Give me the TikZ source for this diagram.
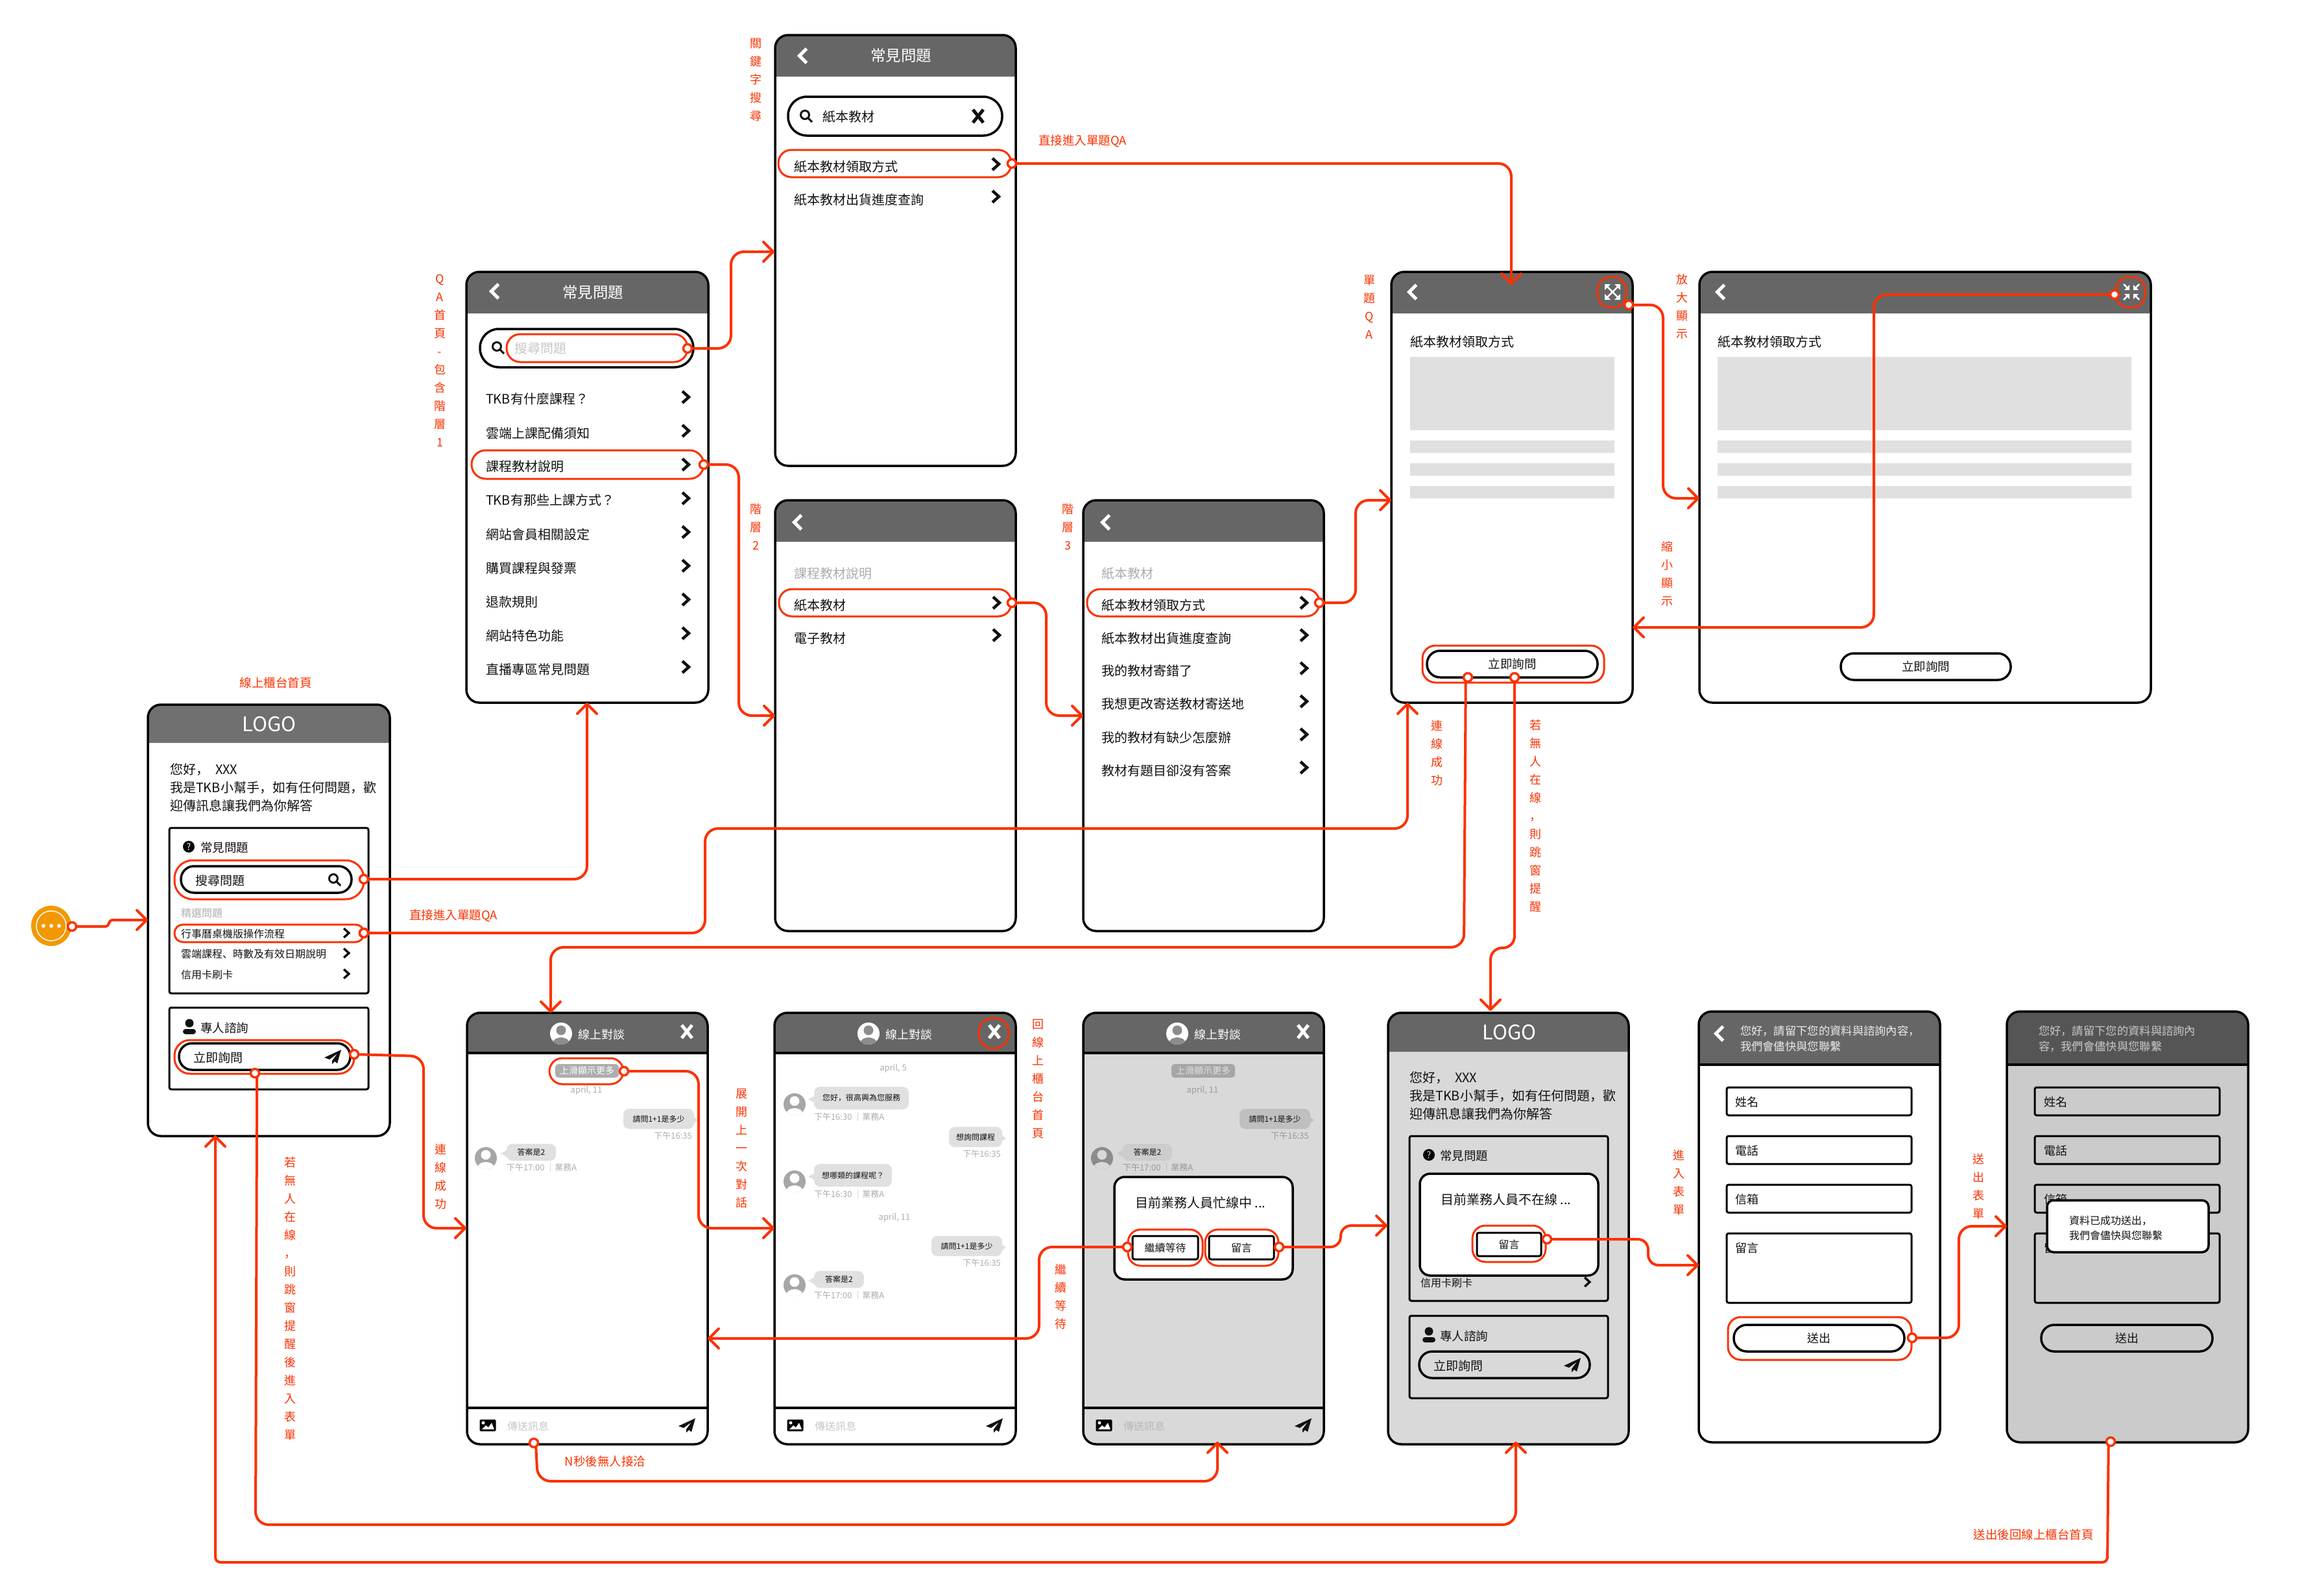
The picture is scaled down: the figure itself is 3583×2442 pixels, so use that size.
\documentclass[tikz,border=0pt]{standalone}
\usepackage{fontspec}
\setmainfont{Noto Sans CJK TC}
\newfontfamily\jpf{Noto Sans CJK JP}
\newcommand\cmj{{\jpf ，}}
\newcommand\dunj{{\jpf 、}}
\usetikzlibrary{arrows.meta}
\definecolor{ink}{HTML}{111111}
\definecolor{rd}{HTML}{FA3200}
\definecolor{hdA}{HTML}{707070}
\definecolor{hdB}{HTML}{666666}
\definecolor{hdM}{HTML}{555555}
\definecolor{blockg}{HTML}{E0E0E0}
\definecolor{grayJ}{HTML}{D9D9D9}
\definecolor{grayM}{HTML}{CBCBCB}
\definecolor{soft}{HTML}{ADADAD}
\definecolor{orangeS}{HTML}{F39800}
\tikzset{
  sz/.style={font=\fontsize{#1}{#1}\selectfont},
  lbl/.style={anchor=west,inner sep=0pt,outer sep=0pt,text=ink,yshift=-1pt},
  ctr/.style={anchor=center,inner sep=0pt,outer sep=0pt,text=ink,yshift=-1pt},
  greet/.style={lbl,align=left,font=\fontsize{20}{28}\selectfont},
  plainbox/.style={draw=black,line width=3pt,rounded corners=3pt},
  pill/.style={draw=black,line width=3.5pt,rounded corners=#1},
  hl/.style={draw=rd,line width=3pt,rounded corners=#1},
  dotn/.style={circle,draw=rd,line width=3.5pt,fill=white,minimum size=13pt,inner sep=0pt,outer sep=0pt},
  conn/.style={draw=rd,line width=4pt,rounded corners=#1,-{Straight Barb[length=15pt,width=30pt,round]}},
  conn/.default=20pt,
  redt/.style={anchor=center,inner sep=0pt,outer sep=0pt,text=rd,font=\fontsize{18.5}{18.5}\selectfont},
  vl/.style={anchor=center,inner sep=0pt,outer sep=0pt,text=rd,align=center,font=\fontsize{18}{28}\selectfont}
}
\newcommand\scrbox[7][]{%
  \pgfmathsetmacro\bxw{#5-#3}\pgfmathsetmacro\bxh{#6-#4}%
  \pgfmathsetmacro\bxx{(#3+#5)/2}\pgfmathsetmacro\bxy{(#4+#6)/2}%
  \node[inner sep=0pt,outer sep=0pt,minimum width=\bxw pt,minimum height=\bxh pt,#1] (#2) at (\bxx,\bxy) {\raisebox{-1pt}{#7}};}
\newcommand\screen[8]{%
  \scrbox[fill=#7,rounded corners=20pt]{#1}{#2}{#3}{#4}{#5}{}%
  \fill[#8] (#2,#6) {[rounded corners=20pt] -- (#2,#3) -- (#4,#3)} -- (#4,#6) -- cycle;%
  \draw[black,line width=3.5pt,rounded corners=20pt] (#1.south west) rectangle (#1.north east);}
\newcommand\chevR[5][ink]{\draw[#1,line width=#5pt,shift={(#2,#3)},scale=#4] (-.55,-1)--(.55,0)--(-.55,1);}
\newcommand\backc[2]{\draw[white,line width=5pt,shift={(#1,#2)},scale=11] (.5,-1)--(-.5,0)--(.5,1);}
\newcommand\xmark[3][white]{\draw[#1,line width=5pt,shift={(#2,#3)}] (-8,-10)--(8,10) (-8,10)--(8,-10);}
\newcommand\magn[2]{\draw[ink,line width=3pt,shift={(#1,#2)}] (-2,-2) circle[radius=6.5] (2.5,2.5)--(9,9);}
\newcommand\planeic[2]{\fill[ink,shift={(#1,#2)}] (13,-11)--(-13,1)--(-5,4)--(7,-5)--(-1,6)--(-1,11)--(3,7)--(7,10)--cycle;}
\newcommand\persb[2]{\fill[ink,shift={(#1,#2)}] (0,-6) circle[radius=6.5]; \fill[ink,rounded corners=4pt,shift={(#1,#2)}] (-10,11)--(-10,3)--(10,3)--(10,11)--cycle;}
\newcommand\avatar[4]{%
  \fill[#3,shift={(#1,#2)}] (0,0) circle[radius=17];
  \begin{scope}[shift={(#1,#2)}]\clip (0,0) circle[radius=17];
    \fill[#4] (0,-5) circle[radius=7.5];
    \fill[#4] (0,15) ellipse[x radius=13,y radius=9];
  \end{scope}}
\newcommand\imgic[2]{\begin{scope}[shift={(#1,#2)}]
  \fill[black,rounded corners=2pt] (-12.5,-9) rectangle (12.5,9);
  \fill[white] (-9,6)--(-3,0)--(1,3)--(6,-4)--(10,6)--cycle;
  \fill[white] (-7,-4) circle[radius=2.5];\end{scope}}
\newcommand\expandic[2]{\begin{scope}[shift={(#1,#2)}]
  \draw[white,line width=2.5pt] (-9,-9)--(9,9) (-9,9)--(9,-9);
  \fill[white] (-12,-12)--(-3,-12)--(-12,-3)--cycle (12,-12)--(3,-12)--(12,-3)--cycle
     (-12,12)--(-3,12)--(-12,3)--cycle (12,12)--(3,12)--(12,3)--cycle;\end{scope}}
\newcommand\collapseic[2]{\begin{scope}[shift={(#1,#2)}]
  \draw[white,line width=2.5pt] (-12,-12)--(-5,-5) (12,12)--(5,5) (-12,12)--(-5,5) (12,-12)--(5,-5);
  \fill[white] (-3,-3)--(-3,-11)--(-11,-3)--cycle (3,-3)--(3,-11)--(11,-3)--cycle
     (-3,3)--(-3,11)--(-11,3)--cycle (3,3)--(3,11)--(11,3)--cycle;\end{scope}}
\newcommand\bubL[7]{\fill[#6] (#2+2,{(#3+#5)/2-4})--(#2-9,{(#3+#5)/2+2})--(#2+2,{(#3+#5)/2+8})--cycle;
  \scrbox[fill=#6,rounded corners=9pt,text=ink,sz=12]{#1}{#2}{#3}{#4}{#5}{#7}}
\newcommand\bubR[7]{\fill[#6] (#4-2,{(#3+#5)/2-4})--(#4+6,{(#3+#5)/2+2})--(#4-2,{(#3+#5)/2+8})--cycle;
  \scrbox[fill=#6,rounded corners=9pt,text=ink,sz=12]{#1}{#2}{#3}{#4}{#5}{#7}}
\newcommand\chathd[2]{% name, left x
  \avatar{#2+145}{1593}{white}{hdB!75}
  \node[lbl,sz=18,text=white] (#1h) at (#2+171,1594) {線上對談};
  \xmark{#2+339}{1590}
  \draw[black,line width=4pt] (#2,1623)--(#2+371,1623);}
\newcommand\chatft[3]{% name, left x, placeholder colour
  \draw[black,line width=3.5pt] (#2,2170)--(#2+371,2170);
  \imgic{#2+32}{2197}
  \node[lbl,sz=16,text=#3] (#1f) at (#2+62,2197) {傳送訊息};
  \planeic{#2+339}{2197}}
\newcommand\tstamp[3]{\node[lbl,sz=13,text=soft] (#1) at (#2,#3) {下午16:30 ｜業務A};}
\begin{document}
\begin{tikzpicture}[x=1pt,y=-1pt]
\useasboundingbox (0,0) rectangle (3583,2442);
\fill[white] (0,0) rectangle (3583,2442);

% ---------- start button
\node[circle,fill=orangeS,minimum size=62pt,inner sep=0pt] (start) at (79,1427) {};
\draw[white,line width=1.5pt] (start.center) circle[radius=23];
\foreach \d in {-12,0,12} \fill[white] (79+\d,1427) circle[radius=3];
\node[dotn] (d0) at (111,1428) {};

% ---------- A home
\screen{sA}{228}{1086}{601}{1751}{1145}{white}{hdA}
\node[ctr,sz=31,text=white] (a0) at (415,1115) {LOGO};
\node[greet] (a1) at (262,1213) {您好\cmj\hspace{10pt}XXX\\我是TKB小幫手\cmj 如有任何問題\cmj 歡\\迎傳訊息讓我們為你解答};
\scrbox[plainbox]{a2}{261}{1276}{568}{1531}{}
\node[circle,fill=black,text=white,minimum size=18pt,inner sep=0pt,sz=14] (a3) at (291,1305) {?};
\node[lbl,sz=18.5] (a4) at (309,1305) {常見問題};
\scrbox[pill=20pt]{a5}{279}{1335}{542}{1376}{}
\node[lbl,sz=19] (a6) at (301,1356) {搜尋問題};
\magn{516}{1356}
\scrbox[hl=28pt]{a7}{269}{1326}{561}{1386}{}
\node[dotn] (dA0) at (561,1355) {};
\node[lbl,sz=16,text=soft] (a8) at (279,1406) {精選問題};
\scrbox[hl=13pt]{a9}{269}{1425}{561}{1452}{}
\node[lbl,sz=16] (a10) at (279,1438) {行事曆桌機版操作流程};
\node[lbl,sz=16] (a11) at (279,1469) {雲端課程\dunj 時數及有效日期說明};
\node[lbl,sz=16] (a12) at (279,1501) {信用卡刷卡};
\foreach \y in {1438,1469,1501} \chevR{534}{\y}{7}{3.5}
\node[dotn] (dA1) at (561,1438) {};
\scrbox[plainbox]{a13}{261}{1553}{568}{1679}{}
\persb{292}{1583}
\node[lbl,sz=18.5] (a14) at (309,1583) {專人諮詢};
\scrbox[pill=20pt]{a15}{276}{1608}{540}{1649}{}
\node[lbl,sz=19] (a16) at (298,1629) {立即詢問};
\planeic{513}{1629}
\scrbox[hl=24pt]{a17}{269}{1603}{546}{1655}{}
\node[dotn] (dA2) at (546,1625) {};
\node[dotn] (dA3) at (393,1654) {};

% ---------- B QA home
\screen{sB}{719}{419}{1092}{1083}{483}{white}{hdB}
\backc{763}{449}
\node[ctr,sz=23.5,text=white] (b0) at (914,450) {常見問題};
\scrbox[pill=29pt]{b1}{740}{507}{1069}{566}{}
\magn{768}{536}
\node[lbl,sz=20,text=black!22] (b2) at (793,536) {搜尋問題};
\scrbox[hl=21pt]{b3}{781}{515}{1060}{558}{}
\node[dotn] (dB0) at (1060,537) {};
\foreach \t/\y/\c [count=\i] in {TKB有什麼課程？/614/612,雲端上課配備須知/667/664,課程教材說明/718/716,TKB有那些上課方式？/770/768,網站會員相關設定/823/820,購買課程與發票/875/872,退款規則/927/924,網站特色功能/979/976,直播專區常見問題/1031/1028}{
  \node[lbl,sz=20] (bi\i) at (749,\y) {\t};
  \chevR{1057}{\c}{9}{4.5}
}
\scrbox[hl=22pt]{b4}{727}{694}{1085}{738}{}
\node[dotn] (dB1) at (1085,716) {};

% ---------- C keyword search
\screen{sC}{1195}{54}{1566}{718}{118}{white}{hdB}
\backc{1238}{86}
\node[ctr,sz=23.5,text=white] (c0) at (1389,85) {常見問題};
\scrbox[pill=29pt]{c1}{1215}{149}{1545}{209}{}
\magn{1243}{179}
\node[lbl,sz=20] (c2) at (1268,179) {紙本教材};
\xmark[ink]{1508}{179}
\scrbox[hl=20pt]{c3}{1200}{231}{1559}{273}{}
\node[lbl,sz=20] (c4) at (1224,256) {紙本教材領取方式};
\node[lbl,sz=20] (c5) at (1224,307) {紙本教材出貨進度查詢};
\chevR{1535}{253}{9}{4.5}
\chevR{1535}{303}{9}{4.5}
\node[dotn] (dC) at (1560,252) {};

% ---------- D level 2
\screen{sD}{1195}{771}{1566}{1435}{835}{white}{hdB}
\backc{1230}{805}
\node[lbl,sz=20,text=soft] (d1) at (1224,883) {課程教材說明};
\scrbox[hl=20pt]{d2}{1201}{908}{1559}{950}{}
\node[lbl,sz=20] (d3) at (1224,932) {紙本教材};
\node[lbl,sz=20] (d4) at (1224,983) {電子教材};
\chevR{1536}{929}{9}{4.5}
\chevR{1536}{979}{9}{4.5}
\node[dotn] (dD) at (1560,929) {};

% ---------- F level 3
\screen{sF}{1670}{771}{2041}{1435}{835}{white}{hdB}
\backc{1705}{805}
\node[lbl,sz=20,text=soft] (f1) at (1698,883) {紙本教材};
\scrbox[hl=20pt]{f2}{1676}{908}{2034}{950}{}
\foreach \t/\y/\c [count=\i] in {紙本教材領取方式/932/929,紙本教材出貨進度查詢/983/979,我的教材寄錯了/1033/1030,我想更改寄送教材寄送地/1084/1081,我的教材有缺少怎麼辦/1136/1132,教材有題目卻沒有答案/1187/1183}{
  \node[lbl,sz=20] (fi\i) at (1698,\y) {\t};
  \chevR{2010}{\c}{9}{4.5}
}
\node[dotn] (dF) at (2034,929) {};

% ---------- E single QA
\screen{sE}{2145}{419}{2517}{1083}{483}{white}{hdB}
\backc{2178}{450}
\expandic{2486}{450}
\scrbox[hl=20pt]{e0}{2463}{427}{2507}{474}{}
\node[dotn] (dE0) at (2511,470) {};
\node[lbl,sz=20] (e1) at (2174,526) {紙本教材領取方式};
\fill[blockg] (2174,550) rectangle (2489,663) (2174,679) rectangle (2489,698) (2174,714) rectangle (2489,733) (2174,749) rectangle (2489,768);
\scrbox[pill=20pt,sz=18.5,text=ink]{e2}{2200}{1003}{2463}{1044}{立即詢問}
\scrbox[hl=20pt]{e3}{2193}{995}{2473}{1052}{}
\node[dotn] (dE1) at (2263,1044) {};
\node[dotn] (dE2) at (2335,1044) {};

% ---------- H enlarged QA
\screen{sH}{2620}{419}{3316}{1083}{483}{white}{hdB}
\backc{2653}{450}
\collapseic{3286}{450}
\scrbox[hl=20pt]{h0}{3262}{427}{3307}{474}{}
\node[dotn] (dH) at (3260,454) {};
\node[lbl,sz=20] (h1) at (2648,526) {紙本教材領取方式};
\fill[blockg] (2648,550) rectangle (3286,663) (2648,679) rectangle (3286,698) (2648,714) rectangle (3286,733) (2648,749) rectangle (3286,768);
\scrbox[pill=20pt,sz=18.5,text=ink]{h2}{2838}{1007}{3100}{1048}{立即詢問}

% ---------- G chat
\screen{sG}{720}{1561}{1091}{2226}{1623}{white}{hdB}
\chathd{g}{720}
\chatft{g}{720}{black!22}
\scrbox[fill=soft,rounded corners=5pt,text=white,sz=14]{g1}{856}{1640}{954}{1661}{上滑顯示更多}
\scrbox[hl=20pt]{g2}{847}{1631}{961}{1671}{}
\node[dotn] (dG0) at (962,1651) {};
\node[ctr,sz=13,text=soft] (g3) at (904,1680) {april, 11};
\bubR{g4}{961}{1709}{1070}{1740}{blockg}{請問1+1是多少}
\node[anchor=east,inner sep=0pt,sz=13,text=soft] (g5) at (1067,1751) {下午16:35};
\avatar{749}{1785}{black!35}{white}
\bubL{g6}{781}{1763}{857}{1789}{blockg}{答案是2}
\node[lbl,sz=13,text=soft] (g7) at (781,1799) {下午17:00 ｜業務A};
\node[dotn] (dG1) at (823,2224) {};

% ---------- I chat expanded
\screen{sI}{1194}{1561}{1566}{2226}{1623}{white}{hdB}
\chathd{i}{1194}
\chatft{i}{1194}{black!22}
\scrbox[hl=22pt]{i0}{1509}{1569}{1555}{1616}{}
\node[ctr,sz=13,text=soft] (i1) at (1377,1646) {april, 5};
\avatar{1225}{1702}{black!35}{white}
\bubL{i2}{1255}{1675}{1401}{1710}{blockg}{您好\cmj 很高興為您服務}
\tstamp{i3}{1255}{1721}
\bubR{i4}{1463}{1737}{1545}{1768}{blockg}{想詢問課程}
\node[anchor=east,inner sep=0pt,sz=13,text=soft] (i5) at (1543,1779) {下午16:35};
\avatar{1225}{1821}{black!35}{white}
\bubL{i6}{1255}{1794}{1375}{1829}{blockg}{想哪類的課程呢？}
\tstamp{i7}{1255}{1840}
\node[ctr,sz=13,text=soft] (i8) at (1379,1876) {april, 11};
\bubR{i9}{1436}{1905}{1545}{1936}{blockg}{請問1+1是多少}
\node[anchor=east,inner sep=0pt,sz=13,text=soft] (i10) at (1543,1947) {下午16:35};
\avatar{1225}{1981}{black!35}{white}
\bubL{i11}{1255}{1959}{1332}{1985}{blockg}{答案是2}
\node[lbl,sz=13,text=soft] (i12) at (1255,1996) {下午17:00 ｜業務A};

% ---------- J chat busy dialog
\screen{sJ}{1670}{1561}{2041}{2226}{1623}{grayJ}{hdB}
\chathd{j}{1670}
\chatft{j}{1670}{black!28}
\scrbox[fill=black!35,rounded corners=5pt,text=black!12,sz=14]{j1}{1806}{1640}{1904}{1661}{上滑顯示更多}
\node[ctr,sz=13,text=black!40] (j3) at (1854,1680) {april, 11};
\bubR{j4}{1911}{1709}{2020}{1740}{black!25}{請問1+1是多少}
\node[anchor=east,inner sep=0pt,sz=13,text=black!40] (j5) at (2018,1751) {下午16:35};
\avatar{1699}{1785}{black!45}{grayJ}
\bubL{j6}{1731}{1763}{1807}{1789}{black!20}{答案是2}
\node[lbl,sz=13,text=black!40] (j7) at (1731,1799) {下午17:00 ｜業務A};
\scrbox[draw=black,line width=3.5pt,fill=white,rounded corners=16pt]{j8}{1718}{1814}{1993}{1972}{}
\node[lbl,sz=20] (j9) at (1750,1853) {目前業務人員忙線中 ...};
\scrbox[plainbox,sz=16,text=ink]{j10}{1746}{1905}{1847}{1941}{繼續等待}
\scrbox[plainbox,sz=16,text=ink]{j11}{1864}{1905}{1964}{1941}{留言}
\scrbox[hl=20pt]{j12}{1739}{1895}{1854}{1951}{}
\scrbox[hl=20pt]{j13}{1858}{1895}{1971}{1951}{}
\node[dotn] (dJ0) at (1738,1922) {};
\node[dotn] (dJ1) at (1972,1922) {};

% ---------- K home with dialog
\screen{sK}{2140}{1561}{2511}{2226}{1621}{grayJ}{hdB}
\node[ctr,sz=31,text=white] (k0) at (2327,1590) {LOGO};
\node[greet] (k1) at (2173,1688) {您好\cmj\hspace{10pt}XXX\\我是TKB小幫手\cmj 如有任何問題\cmj 歡\\迎傳訊息讓我們為你解答};
\scrbox[plainbox]{k2}{2173}{1751}{2479}{2005}{}
\node[circle,fill=black,text=grayJ,minimum size=18pt,inner sep=0pt,sz=14] (k3) at (2203,1780) {?};
\node[lbl,sz=18.5] (k4) at (2220,1780) {常見問題};
\node[lbl,sz=16] (k5) at (2190,1976) {信用卡刷卡};
\chevR{2447}{1976}{7}{3.5}
\scrbox[draw=black,line width=3.5pt,fill=white,rounded corners=16pt]{k6}{2189}{1809}{2464}{1966}{}
\node[lbl,sz=20] (k7) at (2221,1848) {目前業務人員不在線 ...};
\scrbox[plainbox,sz=16,text=ink]{k8}{2277}{1900}{2376}{1936}{留言}
\scrbox[hl=20pt]{k9}{2270}{1889}{2383}{1945}{}
\node[dotn] (dK) at (2385,1910) {};
\scrbox[plainbox]{k10}{2173}{2028}{2479}{2155}{}
\persb{2203}{2058}
\node[lbl,sz=18.5] (k11) at (2220,2058) {專人諮詢};
\scrbox[pill=20pt]{k12}{2188}{2083}{2451}{2124}{}
\node[lbl,sz=19] (k13) at (2210,2104) {立即詢問};
\planeic{2424}{2104}

% ---------- L form
\screen{sL}{2619}{1559}{2991}{2223}{1641}{white}{hdB}
\draw[black,line width=4pt] (2619,1641)--(2991,1641);
\backc{2651}{1593}
\node[lbl,text=white!92!black,align=left,font=\fontsize{17.3}{24.5}\selectfont] (l0) at (2683,1600) {您好\cmj 請留下您的資料與諮詢內容\cmj\\我們會儘快與您聯繫};
\foreach \a/\b/\c/\t [count=\i] in {1676/1719/1698/姓名,1751/1794/1773/電話,1826/1869/1848/信箱,1901/2008/1923/留言}{
  \scrbox[plainbox]{lb\i}{2662}{\a}{2947}{\b}{}
  \node[lbl,sz=18] (lt\i) at (2675,\c) {\t};
}
\scrbox[pill=20pt,sz=18,text=ink]{l1}{2673}{2042}{2936}{2083}{送出}
\scrbox[hl=20pt]{l2}{2664}{2030}{2947}{2096}{}
\node[dotn] (dL) at (2948,2062) {};

% ---------- M form sent
\screen{sM}{3094}{1559}{3466}{2223}{1641}{grayM}{hdM}
\draw[black,line width=4pt] (3094,1641)--(3466,1641);
\node[lbl,text=black!22,align=left,font=\fontsize{17.3}{24.5}\selectfont] (m0) at (3143,1600) {您好\cmj 請留下您的資料與諮詢內\\容\cmj 我們會儘快與您聯繫};
\foreach \a/\b/\c/\t [count=\i] in {1676/1719/1698/姓名,1751/1794/1773/電話,1826/1869/1848/信箱,1901/2008/1923/留言}{
  \scrbox[plainbox]{mb\i}{3137}{\a}{3422}{\b}{}
  \node[lbl,sz=18] (mt\i) at (3151,\c) {\t};
}
\scrbox[pill=20pt,sz=18,text=ink]{m1}{3147}{2042}{3411}{2083}{送出}
\scrbox[draw=black,line width=3.5pt,fill=white,rounded corners=10pt]{m2}{3156}{1850}{3405}{1930}{}
\node[lbl,align=left,font=\fontsize{16}{23}\selectfont] (m3) at (3190,1892) {資料已成功送出\cmj\\我們會儘快與您聯繫};
\node[dotn] (dM) at (3254,2222) {};

% ---------- arrow targets
\coordinate (tA) at (228,1418);
\coordinate (tB) at (905,1083);
\coordinate (tEb) at (2170,1083);
\coordinate (tCl) at (1194,388);
\coordinate (tDl) at (1195,1103);
\coordinate (tEt) at (2330,439);
\coordinate (tFl) at (1670,1103);
\coordinate (tEl) at (2145,771);
\coordinate (tHl) at (2620,768);
\coordinate (tEr) at (2517,967);
\coordinate (tGt) at (849,1561);
\coordinate (tKt) at (2298,1558);
\coordinate (tGl) at (719,1893);
\coordinate (tKb) at (2337,2222);
\coordinate (tIl) at (1194,1893);
\coordinate (tJb) at (1877,2222);
\coordinate (tGr) at (1091,2063);
\coordinate (tKl) at (2139,1889);
\coordinate (tLl) at (2619,1950);
\coordinate (tMl) at (3094,1890);
\coordinate (tAb) at (332,1750);

% ---------- connectors
\draw[conn=6pt] (d0) -- (168,1428) -- (168,1418) -- (tA);
\draw[conn] (dA0) -- (905,1355) -- (tB);
\draw[conn] (dA1) -- (1087,1438) -- (1087,1277) -- (2170,1277) -- (tEb);
\draw[conn] (dB0) -- (1127,537) -- (1127,388) -- (tCl);
\draw[conn] (dB1) -- (1139,716) -- (1139,1103) -- (tDl);
\draw[conn] (dC) -- (2330,252) -- (tEt);
\draw[conn] (dD) -- (1613,929) -- (1613,1103) -- (tFl);
\draw[conn] (dF) -- (2090,929) -- (2090,771) -- (tEl);
\draw[conn] (dE0) -- (2564,470) -- (2564,768) -- (tHl);
\draw[conn] (dH) -- (2889,454) -- (2889,967) -- (tEr);
\draw[conn] (dE1.240) -- (2257,1460) -- (849,1460) -- (tGt);
\draw[conn=18pt] (dE2) -- (2335,1461) -- (2298,1461) -- (tKt);
\draw[conn] (dA2) -- (653,1628) -- (653,1893) -- (tGl);
\draw[conn] (dA3.300) -- (394,2350) -- (2337,2350) -- (tKb);
\draw[conn] (dG0) -- (1077,1651) -- (1077,1893) -- (tIl);
\draw[conn] (dG1.300) -- (829,2283) -- (1877,2283) -- (tJb);
\draw[conn] (dJ0) -- (1602,1922) -- (1602,2063) -- (tGr);
\draw[conn=16pt] (dJ1) -- (2067,1922) -- (2067,1889) -- (tKl);
\draw[conn=16pt] (dK) -- (2541,1910) -- (2541,1950) -- (tLl);
\draw[conn] (dL) -- (3020,2062) -- (3020,1890) -- (tMl);
\draw[conn=8pt] (dM.240) -- (3249,2408) -- (332,2408) -- (tAb);

% ---------- red labels
\node[redt] (n1) at (425,1052) {線上櫃台首頁};
\node[redt] (n2) at (699,1411) {直接進入單題QA};
\node[redt] (n3) at (1669,217) {直接進入單題QA};
\node[redt] (n4) at (933,2252) {N秒後無人接洽};
\node[redt] (n5) at (3135,2365) {送出後回線上櫃台首頁};
\node[vl] (v1) at (678,556) {Q\\A\\首\\頁\\-\\包\\含\\階\\層\\1};
\node[vl] (v2) at (1165,123) {關\\鍵\\字\\搜\\尋};
\node[vl] (v3) at (1165,812) {階\\層\\2};
\node[vl] (v4) at (1646,812) {階\\層\\3};
\node[vl] (v5) at (2111,473) {單\\題\\Q\\A};
\node[vl] (v6) at (2593,473) {放\\大\\顯\\示};
\node[vl] (v7) at (2570,885) {縮\\小\\顯\\示};
\node[vl] (v8) at (2215,1161) {連\\線\\成\\功};
\node[vl] (v9) at (2367,1258) {若\\無\\人\\在\\線\\\cmj\\則\\跳\\窗\\提\\醒};
\node[vl] (v10) at (679,1814) {連\\線\\成\\功};
\node[vl] (v11) at (447,2002) {若\\無\\人\\在\\線\\\cmj\\則\\跳\\窗\\提\\醒\\後\\進\\入\\表\\單};
\node[vl] (v12) at (1143,1770) {展\\開\\上\\一\\次\\對\\話};
\node[vl] (v13) at (1600,1663) {回\\線\\上\\櫃\\台\\首\\頁};
\node[vl] (v14) at (1635,1999) {繼\\續\\等\\待};
\node[vl] (v15) at (2588,1823) {進\\入\\表\\單};
\node[vl] (v16) at (3050,1829) {送\\出\\表\\單};
\end{tikzpicture}
\end{document}
